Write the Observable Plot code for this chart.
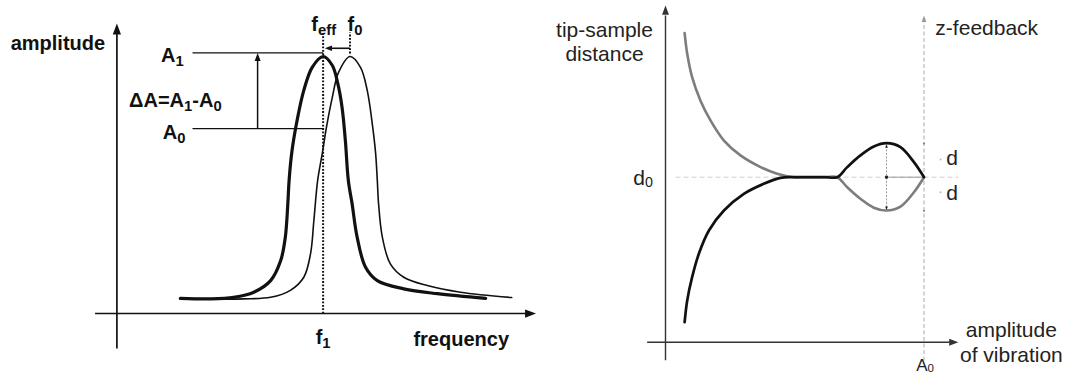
<!DOCTYPE html>
<html>
<head>
<meta charset="utf-8">
<script src="https://cdn.jsdelivr.net/npm/d3@7"></script>
<script src="https://cdn.jsdelivr.net/npm/@observablehq/plot@0.6"></script>
<style>
html, body { margin: 0; padding: 0; background: #fff; }
#wrap { position: relative; width: 1069px; height: 377px; overflow: hidden; background: #fff; }
#wrap svg { position: absolute; top: 0; }
</style>
</head>
<body>
<div id="wrap"></div>
<script>
// ===================== LEFT PANEL DATA (arbitrary units) =====================
// resonance curve shifted by tip-sample interaction (thick) – peak at f_eff
const freqShifted = [15.1, 22.3, 27.8, 32.6, 36.6, 39.0, 40.1, 40.7, 41.0, 41.7, 42.9, 44.5, 46.5, 49.1, 51.3, 52.6, 53.6, 54.4, 55.1, 56.0, 57.2, 59.2, 62.0, 68.3, 76.3, 87.8];
const ampShifted  = [5.9, 5.7, 6.3, 8.3, 12.8, 20.6, 29.7, 42.8, 51.8, 63.4, 75.1, 86.8, 95.8, 100, 96.5, 89.4, 80.3, 67.2, 51.8, 42.7, 29.7, 18.0, 12.8, 9.6, 7.7, 5.9];
// free resonance curve (thin) – peak at f0
const freqFree = [15.1, 26.3, 30.2, 36.6, 41.3, 44.5, 46.1, 46.9, 47.8, 48.9, 49.9, 51.3, 52.8, 55.5, 58.0, 59.6, 60.8, 61.6, 62.0, 62.3, 63.2, 65.1, 68.3, 73.9, 81.8, 94.0];
const ampFree  = [5.9, 5.6, 5.7, 6.3, 9.0, 14.1, 23.2, 36.2, 51.8, 62.3, 72.5, 84.2, 93.9, 100, 95.8, 86.8, 73.9, 62.3, 51.8, 42.8, 29.7, 19.3, 14.1, 10.9, 8.3, 6.2];
// marked levels / frequencies
const levelA1 = 101.4, levelA0 = 71.9, fEff = 49.1, f0 = 55.5;
const leftLabels = ["amplitude", "frequency", "A_1", "A_0", "\u0394A=A_1-A_0", "f_{eff}", "f_0", "f_1"];

// ===================== RIGHT PANEL DATA (arbitrary units) =====================
// amplitude of vibration (A0 = 100) vs tip-sample distance (d0 = 100)
const vibGray  = [7.4, 8.4, 10.3, 13.5, 17.4, 22.6, 29.0, 36.8, 43.2, 49.6, 54.0, 58.0, 62.0, 66.4, 70.3, 75.4, 80.6, 85.5, 90.9, 96.1, 100];
const distGray = [187.3, 174.8, 160.6, 146.5, 134.4, 122.2, 113.2, 106.1, 102.1, 100, 100, 100, 100, 100, 93.9, 86.9, 81.5, 79.8, 82.2, 90.9, 100];
const vibBlack  = [7.4, 8.4, 10.3, 12.9, 16.8, 22.6, 30.3, 38.0, 44.5, 49.6, 54.0, 58.0, 62.0, 66.4, 70.3, 75.4, 80.6, 85.5, 90.9, 96.1, 100];
const distBlack = [12.1, 25.3, 39.4, 53.6, 67.7, 79.8, 89.9, 96.0, 99.6, 100, 100, 100, 100, 100, 106.1, 113.2, 118.6, 120.6, 118.2, 109.1, 100];
const d0 = 100, ampA0 = 100, dSpan = 20.4, vibAtD = 85.5;
const rightLabels = ["tip-sample", "distance", "z-feedback", "d_0", "d", "amplitude", "of vibration", "A_0"];

// ===================== helpers =====================
const font = "'Liberation Sans', Arial, Helvetica, sans-serif";
// arrowhead symbol: tip at the anchor point, pointing up before rotation
const arrowHead = {
  draw(ctx, size) {
    const r = Math.sqrt(size / Math.PI);
    ctx.moveTo(0, 0);
    ctx.lineTo(0.75 * r, 2 * r);
    ctx.lineTo(-0.75 * r, 2 * r);
    ctx.closePath();
  }
};
function head(x, y, rotate, r, fill) {
  return Plot.dot([{x, y}], {x: "x", y: "y", symbol: arrowHead, r, rotate, fill, stroke: "none"});
}
function seg(list, opts) {
  return Plot.link(list, {x1: "x1", y1: "y1", x2: "x2", y2: "y2", ...opts});
}
function label(x, y, text, opts) {
  return Plot.text([{x, y, text}], {x: "x", y: "y", text: "text", lineAnchor: "bottom", ...opts});
}
// turn "A_1" / "f_{eff}" into real subscripts
function subscripts(svg, SC, SH) {
  svg.querySelectorAll("text").forEach(t => {
    const s = t.textContent;
    if (!s.includes("_")) return;
    const parts = [];
    const re = /_(\{[^}]*\}|.)/g;
    let last = 0, m;
    while ((m = re.exec(s))) {
      if (m.index > last) parts.push({text: s.slice(last, m.index), sub: false});
      parts.push({text: m[1].replace(/[{}]/g, ""), sub: true});
      last = re.lastIndex;
    }
    if (last < s.length) parts.push({text: s.slice(last), sub: false});
    t.textContent = "";
    let prevSub = false;
    parts.forEach(p => {
      const ts = document.createElementNS("http://www.w3.org/2000/svg", "tspan");
      ts.textContent = p.text;
      if (p.sub) {
        ts.setAttribute("font-size", (SC * 100) + "%");
        ts.setAttribute("dy", (SH / SC) + "em");
      } else if (prevSub) {
        ts.setAttribute("dy", (-SH) + "em");
      }
      prevSub = p.sub;
      t.appendChild(ts);
    });
  });
}

// ===================== LEFT PANEL =====================
const shifted = freqShifted.map((f, i) => ({f, a: ampShifted[i]}));
const free = freqFree.map((f, i) => ({f, a: ampFree[i]}));
const ink = "#111";
const bold = {fontSize: 20, fontWeight: "bold", fill: ink};

const left = Plot.plot({
  width: 540, height: 377,
  x: {domain: [0, 100], range: [116.4, 536.4]},
  y: {domain: [0, 100], range: [313, 56]},
  axis: null,
  style: {fontFamily: font, background: "transparent", overflow: "visible"},
  marks: [
    // axes
    seg([{x1: -5.2, y1: 0, x2: 98.5, y2: 0}, {x1: 0, y1: -13.6, x2: 0, y2: 111.5}], {stroke: ink, strokeWidth: 1.7}),
    head(99.8, 0, 90, 5.5, ink),
    head(0, 112.8, 0, 5.5, ink),
    // A1 / A0 levels
    seg([{x1: 18.0, y1: levelA1, x2: fEff, y2: levelA1}, {x1: 18.0, y1: levelA0, x2: fEff, y2: levelA0}], {stroke: ink, strokeWidth: 1.3}),
    // delta A arrow
    seg([{x1: 33.5, y1: levelA0, x2: 33.5, y2: levelA1 - 2}], {stroke: ink, strokeWidth: 1.5}),
    head(33.5, levelA1, 0, 4, ink),
    // dotted frequency markers
    seg([{x1: fEff, y1: 0, x2: fEff, y2: 109.3}, {x1: f0, y1: levelA1 - 0.2, x2: f0, y2: 109.3}], {stroke: ink, strokeWidth: 2, strokeDasharray: "1.8,1.6"}),
    // shift arrow f0 -> f_eff
    seg([{x1: f0, y1: 103.2, x2: fEff + 1.8, y2: 103.2}], {stroke: ink, strokeWidth: 1.6}),
    head(fEff + 0.4, 103.2, -90, 3.6, ink),
    // resonance curves
    Plot.line(free, {x: "f", y: "a", curve: "catmull-rom", stroke: ink, strokeWidth: 1.6}),
    Plot.line(shifted, {x: "f", y: "a", curve: "catmull-rom", stroke: ink, strokeWidth: 3.2}),
    // labels
    label(-25.3, 102.7, leftLabels[0], {...bold, textAnchor: "start"}),
    label(70.6, -12.5, leftLabels[1], {...bold, textAnchor: "start"}),
    label(15.9, 97.8, leftLabels[2], {...bold, textAnchor: "end"}),
    label(16.3, 68.0, leftLabels[3], {...bold, textAnchor: "end"}),
    label(2.9, 80.3, leftLabels[4], {...bold, textAnchor: "start"}),
    label(46.3, 110.1, leftLabels[5], {...bold, textAnchor: "start"}),
    label(54.9, 110.1, leftLabels[6], {...bold, textAnchor: "start"}),
    label(fEff, -11.7, leftLabels[7], {...bold, textAnchor: "middle"})
  ]
});
left.style.left = "0px";
subscripts(left, 0.74, 0.2);

// ===================== RIGHT PANEL =====================
const grayCurve = vibGray.map((v, i) => ({v, d: distGray[i]}));
const blackCurve = vibBlack.map((v, i) => ({v, d: distBlack[i]}));
const axisInk = "#333", txt = "#222";
const reg = {fontSize: 21, fill: txt};

const right = Plot.plot({
  width: 529, height: 377,
  x: {domain: [0, 100], range: [125, 383.5]},
  y: {domain: [0, 100], range: [341.7, 176.7]},
  axis: null,
  style: {fontFamily: font, background: "transparent", overflow: "visible"},
  marks: [
    // faint guide lines
    seg([{x1: 3.9, y1: d0, x2: 113.3, y2: d0}], {stroke: "#cfcfcf", strokeWidth: 1, strokeDasharray: "5,3"}),
    seg([{x1: vibAtD, y1: d0, x2: ampA0, y2: d0}], {stroke: "#9a9a9a", strokeWidth: 1}),
    seg([{x1: ampA0, y1: -11.1, x2: ampA0, y2: 194}], {stroke: "#b8b8b8", strokeWidth: 1.2, strokeDasharray: "4,2.5"}),
    head(ampA0, 198, 0, 3.2, "#9a9a9a"),
    // ticks on z-feedback
    Plot.dot([{v: ampA0, d: d0 + dSpan}, {v: ampA0, d: d0 - dSpan}], {x: "v", y: "d", r: 1.1, fill: "#888", stroke: "none"}),
    // d arrows
    seg([{x1: vibAtD, y1: d0 - dSpan, x2: vibAtD, y2: d0 + dSpan}], {stroke: "#9a9a9a", strokeWidth: 1, strokeDasharray: "2,1.5"}),
    head(vibAtD, d0 + dSpan - 0.4, 0, 1.8, "#222"),
    head(vibAtD, d0 - dSpan + 0.4, 180, 1.8, "#222"),
    Plot.dot([{v: vibAtD, d: d0}], {x: "v", y: "d", symbol: "square", r: 1.6, fill: "#222", stroke: "none"}),
    Plot.dot([{v: 106.4, d: 110.7}, {v: 106.4, d: 90.9}], {x: "v", y: "d", r: 1, fill: "#bbb", stroke: "none"}),
    // axes
    seg([{x1: -7.1, y1: 0, x2: 110, y2: 0}, {x1: 0, y1: -11, x2: 0, y2: 198}], {stroke: axisInk, strokeWidth: 1.4}),
    head(113.3, 0, 90, 4.6, axisInk),
    head(0, 204, 0, 4.6, axisInk),
    // curves
    Plot.line(grayCurve, {x: "v", y: "d", curve: "catmull-rom", stroke: "#7d7d7d", strokeWidth: 2.6}),
    Plot.line(blackCurve, {x: "v", y: "d", curve: "catmull-rom", stroke: "#111", strokeWidth: 2.7}),
    // labels
    label(-23.6, 184.8, rightLabels[0], {...reg, textAnchor: "middle"}),
    label(-23.6, 170.7, rightLabels[1], {...reg, textAnchor: "middle"}),
    label(104.4, 185.9, rightLabels[2], {...reg, textAnchor: "start"}),
    label(-12.5, 95.0, rightLabels[3], {...reg, textAnchor: "start"}),
    label(108.6, 107.1, rightLabels[4], {...reg, textAnchor: "start"}),
    label(108.6, 85.9, rightLabels[4], {...reg, textAnchor: "start"}),
    label(133.8, 3.0, rightLabels[5], {...reg, textAnchor: "middle"}),
    label(133.8, -12.1, rightLabels[6], {...reg, textAnchor: "middle"}),
    label(97.0, -17.4, rightLabels[7], {...reg, fontSize: 17, textAnchor: "start"})
  ]
});
right.style.left = "540px";
subscripts(right, 0.68, 0.08);

const wrap = document.getElementById("wrap");
wrap.appendChild(left);
wrap.appendChild(right);
</script>
</body>
</html>
